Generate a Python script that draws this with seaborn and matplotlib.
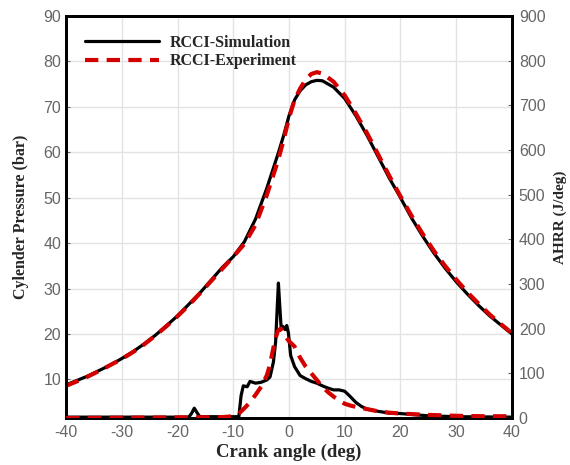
import numpy as np
import pandas as pd
import seaborn as sns
import matplotlib.pyplot as plt

# Cylinder pressure (bar) vs crank angle (deg)
p_angle = [-40, -38, -36, -34, -32, -30, -28, -26, -24, -22, -20, -18, -16, -14, -12, -10,
           -8, -6, -4, -2, -1, 0, 1, 2, 3, 4, 5, 6, 8, 10, 12, 14, 16, 18, 20, 22, 24, 26,
           28, 30, 32, 34, 36, 38, 40]
p_sim = [8.8, 9.8, 10.8, 12.0, 13.2, 14.6, 16.1, 17.8, 19.7, 21.8, 24.0, 26.5, 29.0, 31.8, 34.6, 37.0,
         40.3, 45.3, 52.0, 59.5, 63.5, 68.0, 71.5, 73.5, 74.8, 75.5, 75.8, 75.7, 74.3, 71.8, 68.0, 63.7,
         59.0, 54.3, 50.0, 45.5, 41.5, 37.8, 34.5, 31.5, 28.8, 26.3, 24.0, 22.0, 20.0]
p_exp = [8.6, 9.6, 10.7, 11.9, 13.2, 14.5, 16.0, 17.7, 19.6, 21.7, 23.9, 26.3, 28.9, 31.6, 34.3, 37.0,
         39.8, 44.0, 50.5, 58.0, 62.5, 67.5, 71.5, 74.0, 76.0, 77.2, 77.6, 77.3, 75.5, 72.5, 68.5, 64.2,
         59.5, 54.8, 50.3, 46.0, 42.0, 38.3, 35.0, 32.0, 29.2, 26.7, 24.3, 22.2, 20.2]

# Apparent heat release rate (J/deg)
h_sim_angle = [-40, -25, -18, -17.5, -17, -16.5, -16, -9.5, -9, -8.6, -8.2, -7.5, -7, -6, -5, -4,
               -3.4, -2.8, -2.4, -2.1, -1.9, -1.7, -1.4, -1.1, -0.7, -0.4, -0.1, 0.3, 1, 2, 3, 4,
               5, 6, 7, 8, 9, 10, 11, 12, 13, 14, 16, 18, 20, 25, 30, 40]
h_sim = [2, 2, 2, 10, 22, 12, 3, 3, 3, 50, 72, 70, 82, 78, 80, 85,
         92, 125, 170, 250, 302, 260, 200, 205, 198, 207, 190, 140, 115, 95, 88, 82,
         78, 72, 67, 63, 63, 60, 48, 35, 26, 20, 15, 11, 10, 5, 3, 2]
h_exp_angle = [-40, -12, -10, -9, -8, -7, -6, -5, -4, -3.5, -3, -2.5, -2, -1.5, -1, -0.5, 0,
               1, 2, 3, 4, 5, 6, 7, 8, 9, 10, 11, 12, 14, 16, 18, 20, 25, 30, 35, 40]
h_exp = [0, 2, 4, 10, 22, 35, 52, 70, 95, 115, 145, 175, 195, 200, 190, 180, 172,
         160, 135, 115, 100, 85, 70, 58, 48, 39, 32, 28, 25, 20, 15, 12, 10, 7, 5, 4, 4]

sns.set_style("white")
plt.rcParams['font.family'] = ['Liberation Sans', 'DejaVu Sans']
plt.rcParams['axes.unicode_minus'] = False

fig = plt.figure(figsize=(5.7, 4.65), dpi=100)
ax = fig.add_axes([0.116, 0.101, 0.782, 0.865])
ax2 = ax.twinx()

sim_kw = dict(color="black", lw=2.3)
exp_kw = dict(color="#d40000", lw=3.0, linestyle=(0, (3.2, 2.0)))

sns.lineplot(x=p_angle, y=p_sim, ax=ax, label="RCCI-Simulation", zorder=3, **sim_kw)
sns.lineplot(x=p_angle, y=p_exp, ax=ax, label="RCCI-Experiment", zorder=4, **exp_kw)
sns.lineplot(x=h_sim_angle, y=h_sim, ax=ax2, zorder=3, **sim_kw)
sns.lineplot(x=h_exp_angle, y=h_exp, ax=ax2, zorder=4, **exp_kw)

ax.set_xlim(-40, 40)
ax.set_ylim(1.5, 90)
ax2.set_ylim(0, 900)
ax.set_xticks(range(-40, 41, 10))
ax.set_yticks(range(10, 91, 10))
ax2.set_yticks(range(0, 901, 100))

ax.grid(True, color="#e3e3e3", lw=1)
ax.set_axisbelow(True)
ax2.grid(False)

tick_color = "#666666"
for a in (ax, ax2):
    a.tick_params(labelsize=11.5, colors=tick_color, direction="in", length=3, width=0.8)
    for s in a.spines.values():
        s.set_color("black")
        s.set_linewidth(2)
ax.tick_params(axis="x", pad=5)
ax2.tick_params(axis="y", pad=5)

serif = ['Liberation Serif', 'DejaVu Serif']
ax.set_xlabel("Crank angle (deg)", family=serif, weight="bold", size=13.5, labelpad=3)
ax.set_ylabel("Cylender Pressure (bar)", family=serif, weight="bold", size=11.5, labelpad=10)
ax2.set_ylabel("AHRR (J/deg)", family=serif, weight="bold", size=11, labelpad=6)

leg = ax.legend(loc="upper left", frameon=False, handlelength=4.6, handletextpad=0.7,
                borderaxespad=0.7, borderpad=0.5, labelspacing=0.15,
                prop=dict(family=serif, weight="bold", size=11.5))

fig.savefig("out.png", dpi=100)
